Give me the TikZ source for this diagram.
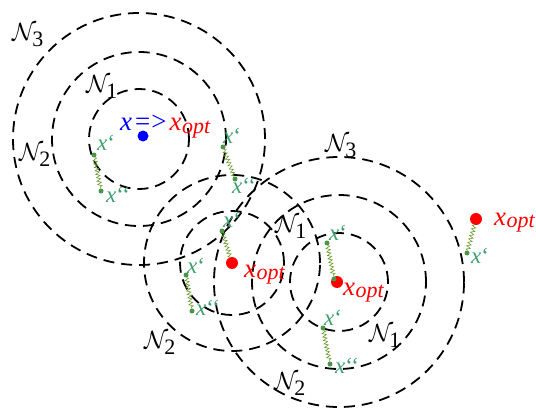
\documentclass[tikz,border=0pt]{standalone}
\usepackage{amsmath,amsfonts}
\usepackage{fontspec}
\setmainfont{Liberation Serif}
\usepackage{tikz}
\usetikzlibrary{positioning, calc, decorations.pathmorphing}

\definecolor{labgreen}{RGB}{60,160,110}
\definecolor{dotgreen}{RGB}{75,150,70}
\definecolor{zzgreen}{RGB}{105,155,45}

% 记号
\newcommand{\xopt}{\textit{x\kern0.5pt\raisebox{-2pt}{\fontsize{22}{24}\selectfont opt}}}
\newcommand{\xp}{\textit{x}‘}
\newcommand{\xpp}{\textit{x}‘‘}
\newcommand{\nbh}[1]{$\mathcal{N}_{\mbox{\fontsize{22}{24}\selectfont #1}}$}

\begin{document}
\begin{tikzpicture}[
        % 定义样式
        x=1pt, y=-1pt,
        ring/.style={draw, line width=1.8pt, dash pattern=on 11pt off 7pt},
        gdot/.style={circle, fill=dotgreen, inner sep=0pt, minimum size=5pt},
        rdot/.style={circle, fill=red, inner sep=0pt, minimum size=12pt},
        bdot/.style={circle, fill=blue, inner sep=0pt, minimum size=11pt},
        xlab/.style={anchor=base west, inner sep=0pt, text=labgreen, font=\fontsize{23}{25}\selectfont},
        nlab/.style={inner sep=0pt, font=\fontsize{28}{30}\selectfont},
        optlab/.style={anchor=base west, inner sep=0pt, text=red, font=\fontsize{27}{29}\selectfont},
        spring/.style={draw=zzgreen, line width=0.6pt, decorate,
            decoration={zigzag, segment length=3.5pt, amplitude=2pt}}
    ]

    \useasboundingbox (0,0) rectangle (536,412);

    % 1. 邻域 (三组虚线圆)
    \coordinate (c1) at (139,139);
    \coordinate (c2) at (232,263);
    \coordinate (c3) at (339,282);
    \foreach \r in {50,87,126}
        \draw[ring] (c1) circle[radius=\r pt];
    \foreach \r in {52,88}
        \draw[ring] (c2) circle[radius=\r pt];
    \foreach \r in {49,87,125}
        \draw[ring] (c3) circle[radius=\r pt];

    % 邻域标签
    \node[nlab] (n3a) at (28,35) {\nbh{3}};
    \node[nlab] (n1a) at (102,87) {\nbh{1}};
    \node[nlab] (n2a) at (35,155) {\nbh{2}};
    \node[nlab] (n1b) at (291,227) {\nbh{1}};
    \node[nlab] (n2b) at (160,343) {\nbh{2}};
    \node[nlab] (n3c) at (341,146) {\nbh{3}};
    \node[nlab] (n1c) at (385,336) {\nbh{1}};
    \node[nlab] (n2c) at (290,384) {\nbh{2}};

    % 2. 当前解与最优解
    \node[bdot] (xstart) at (143,136) {};
    \node[optlab] (xtext) at (120,131)
        {\textcolor{blue}{\textit{x}\kern3pt=\kern1pt>}\kern3pt\xopt};
    \node[rdot] (opt2) at (232,263) {};
    \node[rdot] (opt3) at (337,282) {};
    \node[rdot] (opt4) at (476,219) {};
    \node[optlab] (optl2) at (244,277) {\xopt};
    \node[optlab] (optl3) at (343,295) {\xopt};
    \node[optlab] (optl4) at (494,225) {\xopt};

    % 3. 扰动点 x' 与局部搜索点 x''
    \node[gdot] (p1a) at (94,155) {};
    \node[gdot] (p1b) at (101,191) {};
    \node[gdot] (p2a) at (223,147) {};
    \node[gdot] (p2b) at (235,179) {};
    \node[gdot] (p3a) at (222,231) {};
    \node[gdot] (p4a) at (186,275) {};
    \node[gdot] (p4b) at (192,311) {};
    \node[gdot] (p5a) at (327,243) {};
    \node[gdot] (p5b) at (334,279) {};
    \node[gdot] (p6a) at (323,328) {};
    \node[gdot] (p6b) at (330,364) {};
    \node[gdot] (p7a) at (467,253) {};

    \node[xlab] at (97,150) {\xp};
    \node[xlab] at (106,202) {\xpp};
    \node[xlab] at (223,143) {\xp};
    \node[xlab] at (232,193) {\xpp};
    \node[xlab] at (223,227) {\xp};
    \node[xlab] at (187,273) {\xp};
    \node[xlab] at (196,315) {\xpp};
    \node[xlab] at (329,240) {\xp};
    \node[xlab] at (324,325) {\xp};
    \node[xlab] at (335,373) {\xpp};
    \node[xlab] at (471,263) {\xp};

    % 4. 连接线 (锯齿)
    \draw[spring] (p1a) -- (p1b);
    \draw[spring] (p2a) -- (p2b);
    \draw[spring] (p3a) -- (opt2);
    \draw[spring] (p4a) -- (p4b);
    \draw[spring] (p5a) -- (p5b);
    \draw[spring] (p6a) -- (p6b);
    \draw[spring] (p7a) -- (opt4);

\end{tikzpicture}
\end{document}
